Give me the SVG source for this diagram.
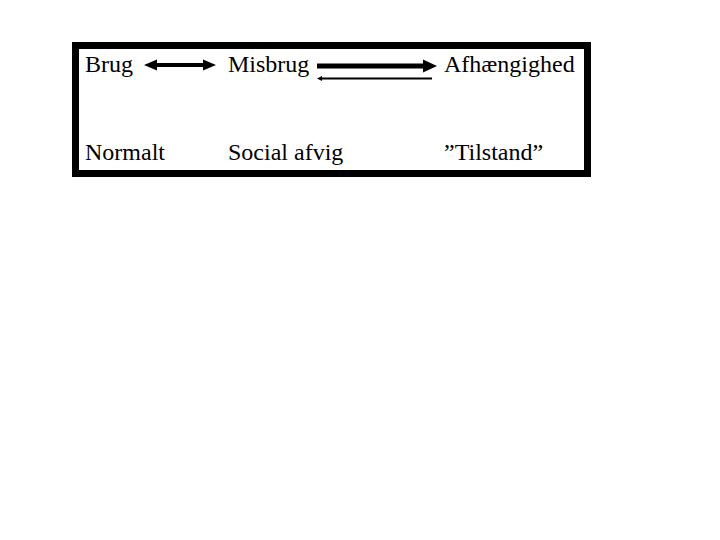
<svg xmlns="http://www.w3.org/2000/svg" width="720" height="540" viewBox="0 0 720 540">
<style>
text{font-family:"Liberation Serif","Times New Roman",serif;font-size:24px;fill:#000}
</style>
<rect width="720" height="540" fill="#fff"/>
<g id="frame"><rect x="75.5" y="45.5" width="512" height="128" fill="#fff" stroke="#000" stroke-width="7"/></g>
<g id="brug"><text x="85" y="72">Brug</text></g>
<g id="misbrug"><text x="228" y="72">Misbrug</text></g>
<g id="afhaengighed"><text x="444" y="72">Afhængighed</text></g>
<g id="normalt"><text x="85" y="160">Normalt</text></g>
<g id="social"><text x="228" y="160">Social afvig</text></g>
<g id="tilstand"><text x="444" y="160">”Tilstand”</text></g>
<g id="connectors">
<path d="M144 65 L157 59.5 L157 63 L203 63 L203 59.5 L216 65 L203 70.5 L203 67 L157 67 L157 70.5 Z" fill="#000"/>
<path d="M317 63.5 L423 63.5 L423 59.5 L437 66 L423 72.5 L423 68.5 L317 68.5 Z" fill="#000"/>
<path d="M321 77.5 L432 77.5 L432 79.5 L321 79.5 Z" fill="#000"/>
<path d="M317 78.5 L322 76 L322 81 Z" fill="#000"/>
</g>
</svg>
